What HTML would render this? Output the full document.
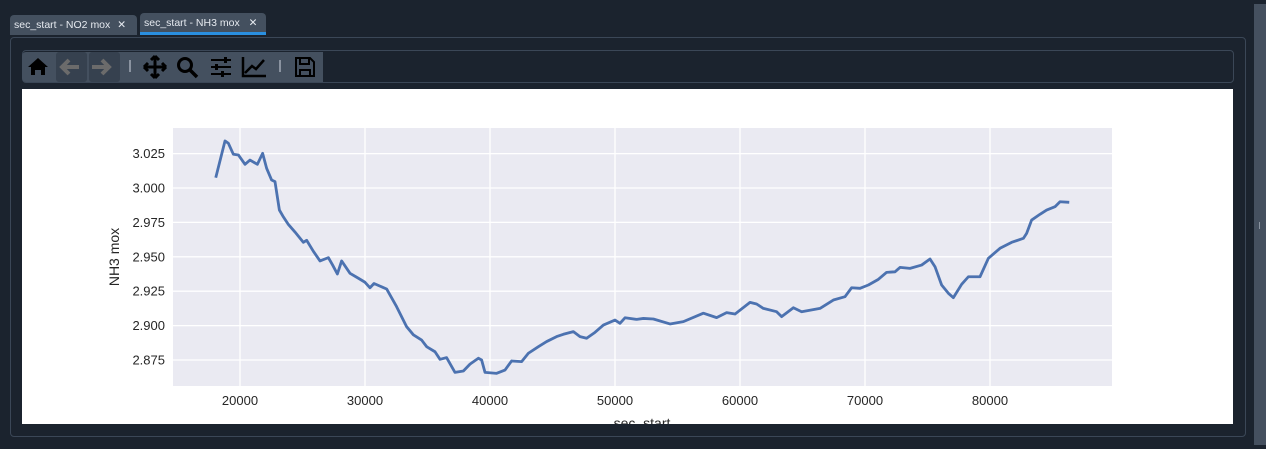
<!DOCTYPE html>
<html><head><meta charset="utf-8"><style>
body{margin:0;width:1266px;height:449px;background:#1b232e;position:relative;overflow:hidden;font-family:"Liberation Sans","DejaVu Sans",sans-serif}
.abs{position:absolute}
.tab{position:absolute;top:13px;height:22px;background:#44505f;border-radius:4px 4px 0 0;color:#e6eaf0;font-size:10.5px;line-height:22px;padding-left:4px;box-sizing:border-box;white-space:nowrap;overflow:hidden}
.tb{position:absolute;top:52px;height:30px;background:#44505f}
</style></head><body>
<div class="tab" style="left:10px;width:127px;top:15px;height:20px;line-height:20px">sec_start - NO2 mox <span style="margin-left:4px">✕</span></div>
<div class="tab" style="left:140px;width:126px;border-bottom:3px solid #2a8fe0;line-height:20px">sec_start - NH3 mox <span style="margin-left:6px">✕</span></div>
<div class="abs" style="left:10px;top:37px;width:1234px;height:398px;border:1px solid #3b4757;border-radius:4px"></div>
<div class="abs" style="left:22px;top:50px;width:1210px;height:31px;border:1px solid #3b4757;border-radius:4px"></div>
<div class="tb" style="left:22px;width:301px;border-radius:4px 0 0 4px"></div>
<div class="tb" style="left:56px;width:31px;background:#36414f;border-radius:3px"></div>
<div class="tb" style="left:89px;width:31px;background:#36414f;border-radius:3px"></div>
<svg class="abs" style="left:0;top:0" width="330" height="90">
<g fill="#000">
<path d="M28 67 L38 58 L48 67 L45 67 L45 75 L41 75 L41 70 L35 70 L35 75 L31 75 L31 67Z"/>
</g>
<path d="M79 67 H63 M69 60 L62 67 L69 74" stroke="#6b6b6b" stroke-width="4" fill="none"/>
<path d="M92 67 H108 M102 60 L109 67 L102 74" stroke="#6b6b6b" stroke-width="4" fill="none"/>
<rect x="129" y="60" width="2" height="12" fill="#8a93a0"/>
<path d="M144 67 H166 M155 56 V78 M144 67 L148 63 M144 67 L148 71 M166 67 L162 63 M166 67 L162 71 M155 56 L151 60 M155 56 L159 60 M155 78 L151 74 M155 78 L159 74" stroke="#000" stroke-width="3" fill="none"/>
<circle cx="185" cy="65" r="6.5" stroke="#000" stroke-width="3" fill="none"/>
<path d="M190 70 L197 77" stroke="#000" stroke-width="3.5"/>
<path d="M211 60 H231 M211 67 H231 M211 74 H231" stroke="#000" stroke-width="2"/>
<rect x="224" y="57" width="3" height="6" fill="#000"/><rect x="215" y="64" width="3" height="6" fill="#000"/><rect x="221" y="71" width="3" height="6" fill="#000"/>
<path d="M243 57 V76 H266 M245 73 L252 66 L256 69 L264 60" stroke="#000" stroke-width="2.5" fill="none"/>
<rect x="279" y="60" width="2" height="12" fill="#8a93a0"/>
<path d="M296 58 H310 L314 62 V76 H296Z M300 58 V64 H309 V58 M300 76 V70 H310 V76" stroke="#000" stroke-width="2" fill="none"/>
</svg>
<div class="abs" style="left:1254px;top:4px;width:12px;height:441px;background:#45505f"></div>
<div class="abs" style="left:1259px;top:222px;width:1px;height:7px;background:#8a93a0"></div>
<div class="abs" style="left:22px;top:89px;width:1211px;height:335px;background:#fff;overflow:hidden"></div>
<svg id="chart" class="abs" style="left:0;top:0" width="1266" height="424"></svg>
<script>
const xTicks=[20000,30000,40000,50000,60000,70000,80000];
const yTicks=[2.875,2.900,2.925,2.950,2.975,3.000,3.025];
const xs=[18060,18800,19070,19470,19870,20400,20800,21390,21810,22130,22530,22800,23150,23470,23870,24400,25070,25330,25870,26400,27070,27410,27790,28130,28800,29470,30000,30400,30720,31730,32530,33330,33870,34530,34930,35600,36000,36530,37200,37870,38400,39070,39330,39600,40530,41200,41730,42530,43070,43870,44530,45330,45870,46670,47200,47730,48400,49070,50000,50400,50800,51740,52270,53070,54400,55470,57070,58130,58930,59600,60800,61330,61870,62930,63330,64270,64930,66400,67470,68400,68930,69600,70270,71070,71730,72400,72800,73600,74530,75200,75600,76130,76670,77070,77730,78270,79200,79870,80800,81730,82670,82930,83330,84000,84530,85200,85600,86340];
const ys=[3.0075,3.0342,3.0325,3.0245,3.024,3.0172,3.0203,3.0172,3.0252,3.0143,3.0058,3.0046,2.984,2.979,2.9735,2.968,2.9605,2.962,2.954,2.947,2.9494,2.944,2.9375,2.947,2.938,2.9344,2.9315,2.9275,2.9306,2.9266,2.9137,2.8992,2.8933,2.8895,2.8847,2.881,2.8755,2.8767,2.866,2.867,2.872,2.8763,2.875,2.866,2.8653,2.8677,2.8743,2.8738,2.8799,2.8847,2.8884,2.892,2.8937,2.8956,2.892,2.8908,2.8951,2.9004,2.904,2.9017,2.9057,2.9045,2.9052,2.9048,2.9012,2.9029,2.909,2.9058,2.9094,2.9084,2.9169,2.9157,2.9125,2.9101,2.9065,2.913,2.9101,2.9125,2.9186,2.921,2.9275,2.9271,2.9295,2.9336,2.9387,2.9391,2.9423,2.9416,2.944,2.9484,2.9428,2.9295,2.9235,2.9203,2.93,2.9355,2.9355,2.9489,2.9562,2.9605,2.9634,2.967,2.9767,2.9809,2.984,2.9864,2.99,2.9896];
const X=v=>240+(v-20000)*0.0125;
const Y=v=>188+(3.0-v)*1376;
const svg=document.getElementById('chart');
const NS='http://www.w3.org/2000/svg';
function mk(t,a){const e=document.createElementNS(NS,t);for(const k in a)e.setAttribute(k,a[k]);svg.appendChild(e);return e;}
const bg=mk('rect',{x:173,y:128,width:939,height:258,fill:'#eaeaf2'});


xTicks.forEach(t=>{
  const l=mk('line',{x1:X(t),x2:X(t),y1:128,y2:386,stroke:'#fff','stroke-width':1.3});
  
  
  const tx=mk('text',{x:X(t),y:405,'text-anchor':'middle','font-size':13,fill:'#262626'});
  tx.textContent=t;
  
  
});
yTicks.forEach(t=>{
  const l=mk('line',{x1:173,x2:1112,y1:Y(t),y2:Y(t),stroke:'#fff','stroke-width':1.3});
  
  
  const tx=mk('text',{x:165,y:Y(t)+4.5,'text-anchor':'end','font-size':13,fill:'#262626'});
  tx.textContent=t.toFixed(3);
  
  
});
const p=mk('polyline',{points:xs.map((x,i)=>X(x)+','+Y(ys[i])).join(' '),fill:'none',stroke:'#4c72b0','stroke-width':2.8,'stroke-linejoin':'round'});


const xl=mk('text',{x:642,y:428,'text-anchor':'middle','font-size':14,fill:'#262626'});
xl.textContent='sec_start';


const yl=mk('text',{x:0,y:0,'text-anchor':'middle','font-size':14,fill:'#262626',transform:'translate(119,257) rotate(-90)'});
yl.textContent='NH3 mox';


</script>
</body></html>
